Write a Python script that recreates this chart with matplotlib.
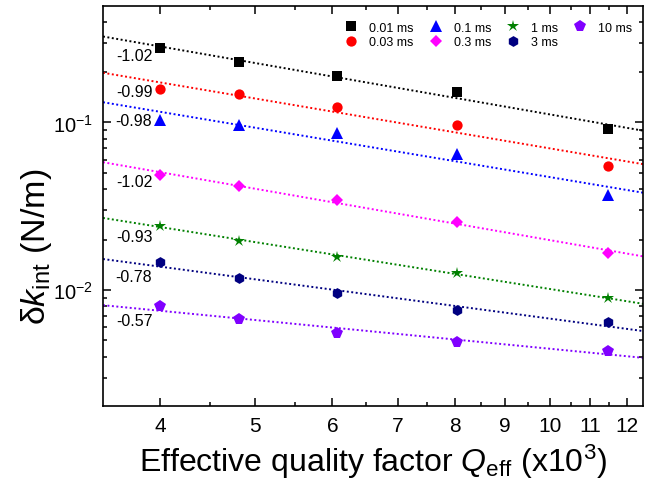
import numpy as np
import matplotlib
matplotlib.use("Agg")
import matplotlib.pyplot as plt
from matplotlib.ticker import FixedLocator, FixedFormatter, NullFormatter, LogLocator

plt.rcParams['font.family'] = ['Liberation Sans', 'DejaVu Sans']
plt.rcParams['mathtext.fontset'] = 'custom'
plt.rcParams['mathtext.rm'] = 'Liberation Sans'
plt.rcParams['mathtext.it'] = 'Liberation Sans:italic'
plt.rcParams['mathtext.bf'] = 'Liberation Sans:bold'

# Data
q_eff = [4.0, 4.82, 6.06, 8.04, 11.47]          # x10^3
labels = ['0.01 ms', '0.03 ms', '0.1 ms', '0.3 ms', '1 ms', '3 ms', '10 ms']
dk_001 = [0.277, 0.231, 0.189, 0.153, 0.0915]
dk_003 = [0.158, 0.148, 0.123, 0.0966, 0.0552]
dk_01 = [0.1035, 0.0966, 0.0866, 0.0649, 0.0371]
dk_03 = [0.0486, 0.0420, 0.0345, 0.0256, 0.0166]
dk_1 = [0.0242, 0.0197, 0.0158, 0.01258, 0.0090]
dk_3 = [0.01463, 0.01175, 0.00956, 0.00756, 0.00641]
dk_10 = [0.00806, 0.00671, 0.00554, 0.00487, 0.00431]
slopes = [-1.02, -0.99, -0.98, -1.02, -0.93, -0.78, -0.57]
x_ticks = [4, 5, 6, 7, 8, 9, 10, 11, 12]
x_minor = [4.5, 5.5, 6.5, 7.5, 8.5, 9.5, 10.5, 11.5]

series = [dk_001, dk_003, dk_01, dk_03, dk_1, dk_3, dk_10]
colors = ['#000000', '#FF0000', '#0000FF', '#FF00FF', '#008000', '#000080', '#8000FF']
markers = ['s', 'o', '^', 'D', '*', 'h', 'p']
msizes = [6.8, 7.4, 8.4, 5.9, 9.2, 7.8, 8.4]

fig = plt.figure(figsize=(6.57, 4.89), dpi=100)
ax = fig.add_axes([103/657, 82/489, 540/657, 400/489])
ax.set_xscale('log')
ax.set_yscale('log')
xlim = (3.5, 12.45)
ax.set_xlim(*xlim)
ax.set_ylim(0.00203, 0.496)

xs = np.array(q_eff)
xline = np.geomspace(xlim[0], xlim[1], 200)
handles = []
for ys, c, m, ms, s, lab in zip(series, colors, markers, msizes, slopes, labels):
    ys = np.array(ys)
    b = np.mean(np.log10(ys) - s * np.log10(xs))
    yline = 10 ** (b + s * np.log10(xline))
    ax.plot(xline, yline, linestyle=(0, (1, 1.3)), color=c, lw=1.4, zorder=2)
    h, = ax.plot(xs, ys, linestyle='none', marker=m, ms=ms, color=c,
                 markeredgewidth=0, label=lab, zorder=3)
    handles.append(h)
    xt = 3.93
    yt = 10 ** (b + s * np.log10(xt))
    ax.annotate(f'{s:.2f}', xy=(xt, yt), xytext=(0, -10.5), textcoords='offset pixels',
                ha='right', va='center', fontsize=11.5)

ax.xaxis.set_major_locator(FixedLocator(x_ticks))
ax.xaxis.set_major_formatter(FixedFormatter([str(t) for t in x_ticks]))
ax.xaxis.set_minor_locator(FixedLocator(x_minor))
ax.xaxis.set_minor_formatter(NullFormatter())
ax.yaxis.set_major_locator(LogLocator(base=10, numticks=10))
ax.yaxis.set_minor_locator(LogLocator(base=10, subs=np.arange(2, 10), numticks=20))
ax.yaxis.set_minor_formatter(NullFormatter())

ax.tick_params(which='both', direction='in', top=True, right=True, width=1.1)
ax.tick_params(which='major', length=6, labelsize=15, pad=7)
ax.tick_params(axis='y', which='major', labelsize=14.5)
ax.tick_params(which='minor', length=3)
for sp in ax.spines.values():
    sp.set_linewidth(1.2)

ax.set_xlabel('Effective quality factor $Q_{\\mathrm{eff}}$ (x10$^{3}$)', fontsize=23, labelpad=5)
ax.set_ylabel('δ$k_{\\mathrm{int}}$ (N/m)', fontsize=24.5)
ax.yaxis.set_label_coords(-0.091, 0.40)

ax.legend(handles=handles, ncol=4, loc='upper left', bbox_to_anchor=(0.4477, 0.961),
          frameon=False, fontsize=9, handlelength=1.0, handletextpad=0.94,
          columnspacing=1.26, borderpad=0, labelspacing=0.2, numpoints=1,
          borderaxespad=0)

fig.savefig('out.png', dpi=100)
